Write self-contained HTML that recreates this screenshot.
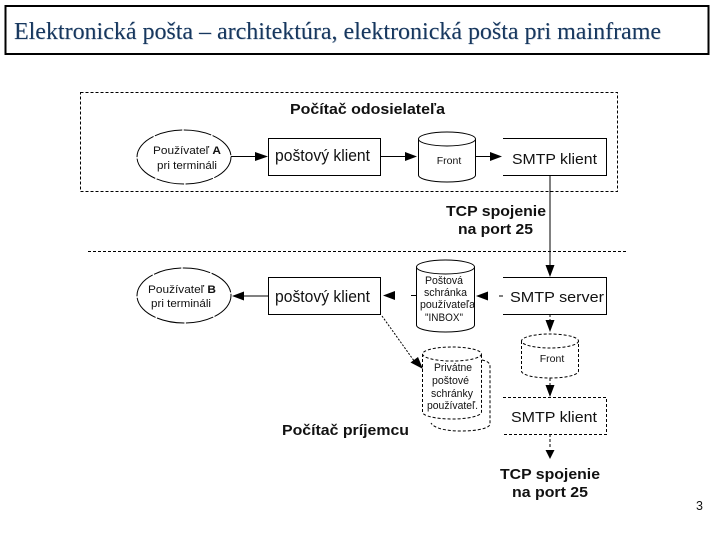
<!DOCTYPE html>
<html>
<head>
<meta charset="utf-8">
<style>
html,body{margin:0;padding:0;background:#fff;width:720px;height:540px;overflow:hidden}
svg{display:block}
text{font-family:"Liberation Sans",sans-serif;fill:#111}
.b{font-weight:bold}
.ln{fill:none;stroke:#000;stroke-width:1}
.d{stroke-dasharray:3 2}
.e{fill:none;stroke:#000;stroke-width:1;stroke-dasharray:28 1.5}
</style>
</head>
<body>
<svg width="720" height="540" viewBox="0 0 720 540" xmlns="http://www.w3.org/2000/svg">
<rect x="0" y="0" width="720" height="540" fill="#fff"/>
<!-- title -->
<rect x="5.5" y="6" width="703" height="48" fill="#fff" stroke="#000" stroke-width="2"/>
<text x="14.6" y="39.6" textLength="647" lengthAdjust="spacingAndGlyphs" style="font-family:'Liberation Serif',serif;font-size:24.5px;fill:#b9c6d4">Elektronická pošta – architektúra, elektronická pošta pri mainframe</text>
<text x="14" y="39" textLength="647" lengthAdjust="spacingAndGlyphs" style="font-family:'Liberation Serif',serif;font-size:24.5px;fill:#17375e">Elektronická pošta – architektúra, elektronická pošta pri mainframe</text>

<!-- sender frame -->
<rect x="80.5" y="92.5" width="537" height="99" class="ln d"/>
<text x="290" y="114" class="b" font-size="14.5" textLength="155" lengthAdjust="spacingAndGlyphs">Počítač odosielateľa</text>

<ellipse cx="184" cy="157" rx="47" ry="27" class="e"/>
<text x="153" y="154" font-size="11" textLength="68" lengthAdjust="spacingAndGlyphs">Používateľ <tspan class="b">A</tspan></text>
<text x="157" y="169" font-size="11" textLength="60" lengthAdjust="spacingAndGlyphs">pri termináli</text>

<path d="M231 156.5H262" class="ln"/>
<path d="M268 156.5L255 152V161Z" fill="#000"/>

<rect x="268.5" y="138.5" width="112" height="37" fill="#fff" stroke="#000"/>
<text x="275" y="161" font-size="16.5" textLength="95" lengthAdjust="spacingAndGlyphs">poštový klient</text>

<path d="M381 156.5H412" class="ln"/>
<path d="M417 156.5L405 152V161Z" fill="#000"/>

<!-- Front cyl -->
<path d="M418.5 139V175C418.5 179 431 182 447 182S475.5 179 475.5 175V139" class="ln"/>
<ellipse cx="447" cy="139" rx="28.5" ry="7" class="ln"/>
<text x="449" y="164" font-size="10.5" text-anchor="middle">Front</text>

<path d="M475 156.5H496" class="ln"/>
<path d="M502 156.5L490 152V161Z" fill="#000"/>

<path d="M503 138.5H606.5V175.5H503" class="ln"/>
<text x="512" y="164" font-size="15" textLength="85" lengthAdjust="spacingAndGlyphs">SMTP klient</text>

<path d="M550 175V266" class="ln"/>
<text x="446" y="216" class="b" font-size="15" textLength="100" lengthAdjust="spacingAndGlyphs">TCP spojenie</text>
<text x="458" y="234" class="b" font-size="15" textLength="75" lengthAdjust="spacingAndGlyphs">na port 25</text>

<path d="M88 251.5H626" class="ln d"/>
<path d="M550 277L545.5 265H554.5Z" fill="#000"/>

<!-- receiver -->
<ellipse cx="184" cy="295.5" rx="47" ry="27.5" class="e"/>
<text x="148" y="293" font-size="11" textLength="68" lengthAdjust="spacingAndGlyphs">Používateľ <tspan class="b">B</tspan></text>
<text x="151" y="307" font-size="11" textLength="60" lengthAdjust="spacingAndGlyphs">pri termináli</text>

<path d="M238 296H268" class="ln"/>
<path d="M232 296L244 291.5V300.5Z" fill="#000"/>

<rect x="268.5" y="277.5" width="112" height="37" fill="#fff" stroke="#000"/>
<text x="275" y="302" font-size="16.5" textLength="95" lengthAdjust="spacingAndGlyphs">poštový klient</text>

<path d="M383 295.5L395 291V300Z" fill="#000"/>
<path d="M411 295.5H416" class="ln"/>

<!-- Inbox cyl -->
<path d="M416.5 267V325C416.5 329 429 332 445.5 332S474.5 329 474.5 325V267" class="ln"/>
<ellipse cx="445.5" cy="267" rx="29" ry="7" class="ln"/>
<text x="425" y="284" font-size="11" textLength="38" lengthAdjust="spacingAndGlyphs">Poštová</text>
<text x="424" y="296" font-size="11" textLength="43" lengthAdjust="spacingAndGlyphs">schránka</text>
<text x="420" y="308" font-size="11" textLength="55" lengthAdjust="spacingAndGlyphs">používateľa</text>
<text x="425" y="321" font-size="11" textLength="38" lengthAdjust="spacingAndGlyphs">"INBOX"</text>

<path d="M476 296L488 291.5V300.5Z" fill="#000"/>
<path d="M499 296H503" class="ln"/>

<path d="M503 277.5H606.5V314.5H503" class="ln"/>
<text x="510" y="302" font-size="15" textLength="94" lengthAdjust="spacingAndGlyphs">SMTP server</text>

<path d="M550 314V322" class="ln d"/>
<path d="M550 332L545.5 320H554.5Z" fill="#000"/>

<!-- dashed cyl Front 2 -->
<path d="M521.5 341V371C521.5 375 534 378 550 378S578.5 375 578.5 371V341" class="ln d"/>
<ellipse cx="550" cy="341" rx="28.5" ry="7" class="ln d"/>
<text x="552" y="362" font-size="10.5" text-anchor="middle">Front</text>

<path d="M550 378V387" class="ln d"/>
<path d="M550 397L545.5 385H554.5Z" fill="#000"/>

<path d="M503 397.5H606.5V434.5H503" class="ln d"/>
<text x="511" y="422" font-size="15" textLength="86" lengthAdjust="spacingAndGlyphs">SMTP klient</text>

<path d="M550 434V449" class="ln d"/>
<path d="M550 459L545.5 450H554.5Z" fill="#000"/>
<text x="500" y="479" class="b" font-size="15" textLength="100" lengthAdjust="spacingAndGlyphs">TCP spojenie</text>
<text x="512" y="497" class="b" font-size="15" textLength="76" lengthAdjust="spacingAndGlyphs">na port 25</text>

<!-- private cyl -->
<path d="M482 360C487 361 490 363 490 366V424C490 428 478 431 461 431C445 431 434 428 431 423" class="ln d"/>
<path d="M422.5 354V412C422.5 416 436 419 452 419S481.5 416 481.5 412V354" class="ln d"/>
<ellipse cx="452" cy="354" rx="29.5" ry="7" class="ln d"/>
<text x="434" y="371" font-size="11" textLength="38" lengthAdjust="spacingAndGlyphs">Privátne</text>
<text x="432" y="384" font-size="11" textLength="37" lengthAdjust="spacingAndGlyphs">poštové</text>
<text x="431" y="397" font-size="11" textLength="42" lengthAdjust="spacingAndGlyphs">schránky</text>
<text x="427" y="409" font-size="11" textLength="51" lengthAdjust="spacingAndGlyphs">používateľ.</text>

<path d="M382 316L417 365" class="ln" stroke-dasharray="2 1.5"/>
<path d="M423 369L410.5 362.5L418 357Z" fill="#000"/>

<text x="282" y="435" class="b" font-size="14.5" textLength="127" lengthAdjust="spacingAndGlyphs">Počítač príjemcu</text>

<text x="696" y="510" font-size="12.5">3</text>
</svg>
</body>
</html>
